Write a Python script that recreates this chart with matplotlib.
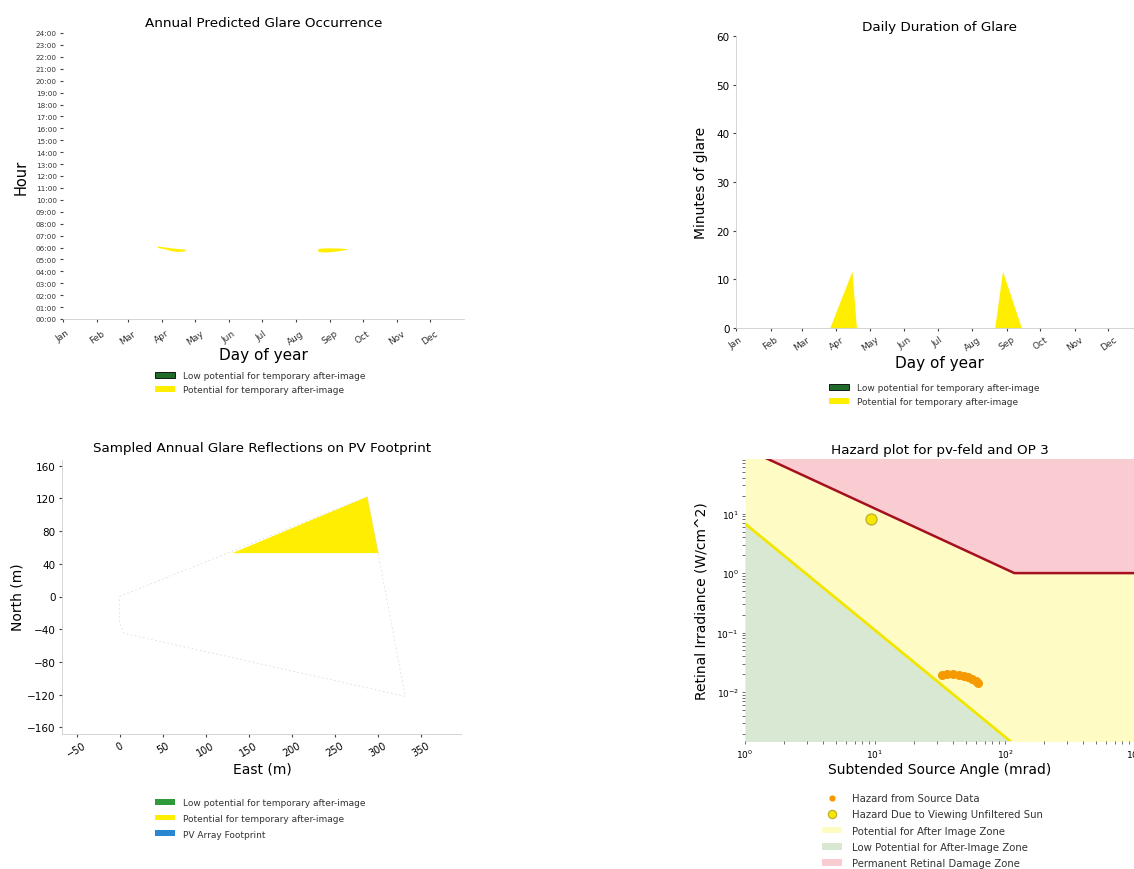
import numpy as np
import matplotlib
matplotlib.use("Agg")
import matplotlib.pyplot as plt
from matplotlib.patches import Patch
from matplotlib.lines import Line2D

# ── data ───────────────────────────────────────────────────────────
MONTHS = ["Jan", "Feb", "Mar", "Apr", "May", "Jun",
          "Jul", "Aug", "Sep", "Oct", "Nov", "Dec"]
MONTH_START = [0, 31, 59, 90, 120, 151, 181, 212, 243, 273, 304, 334]
HOUR_LABELS = [f"{h:02d}:00" for h in range(25)]

# annual glare occurrence (day of year, hour band)
apr_days = [86, 92, 98, 104, 111]
apr_top = [6.12, 6.05, 5.97, 5.92, 5.86]
apr_bot = [6.00, 5.90, 5.75, 5.66, 5.72]
sep_days = [232, 238, 245, 252, 259]
sep_top = [5.92, 5.97, 5.97, 5.95, 5.90]
sep_bot = [5.66, 5.62, 5.66, 5.75, 5.86]

# daily duration of glare
dur_days = [0, 84, 104, 108, 232, 239, 256, 365]
dur_minutes = [0, 0, 11.7, 0, 0, 11.7, 0, 0]

# PV footprint and glare reflections (m)
foot_east = [0, 288, 332, 5, 0, 0]
foot_north = [0, 122, -122, -45, -33, 0]
refl_east = [131, 288, 301]
refl_north = [53, 122, 53]

# hazard plot
src_angle = [33, 36, 40, 44, 48, 52, 56, 60, 62]
src_irr = [0.019, 0.0198, 0.0198, 0.0193, 0.0187, 0.018, 0.0168, 0.0152, 0.0143]
sun_angle = [9.3]
sun_irr = [8.2]
dmg_x = [1.0, 118, 1000]
dmg_y = [125, 1.0, 1.0]
aft_x = [1.0, 130]
aft_y = [6.8, 0.0011]

YELLOW = "#ffee00"
GREEN = "#1e6b2a"
W, H = 1134, 870

fig = plt.figure(figsize=(W / 100, H / 100), dpi=100)


def px_axes(l, t, r, b):
    return fig.add_axes([l / W, 1 - b / H, (r - l) / W, (b - t) / H])


def light_spines(ax):
    for s in ("top", "right"):
        ax.spines[s].set_visible(False)
    for s in ("left", "bottom"):
        ax.spines[s].set_color("#cfcfcf")
        ax.spines[s].set_linewidth(0.6)
        ax.spines[s].set_linestyle((0, (2, 1)))
    ax.tick_params(length=2.5, width=0.8, color="#444444", pad=2)


def glare_legend(ax, x, y, extra=False):
    handles = [Patch(facecolor=GREEN, edgecolor="black", linewidth=0.6),
               Patch(facecolor=YELLOW, edgecolor="none")]
    labels = ["Low potential for temporary after-image",
              "Potential for temporary after-image"]
    spacing = 0.55
    if extra:
        handles[0] = Patch(facecolor="#2f9a3a", edgecolor="none")
        handles.append(Patch(facecolor="#2a86d0", edgecolor="none"))
        labels.append("PV Array Footprint")
        spacing = 0.75
    ax.legend(handles, labels, loc="upper left", bbox_to_anchor=(x / W, 1 - y / H),
              bbox_transform=fig.transFigure, frameon=False, fontsize=6.5,
              handlelength=2.2, handleheight=0.6, labelspacing=spacing,
              borderpad=0, borderaxespad=0, handletextpad=0.9, labelcolor="#333333")


# ── panel 1: annual predicted glare occurrence ─────────────────────
ax1 = px_axes(63, 34, 464, 320)
ax1.fill_between(apr_days, apr_bot, apr_top, color=YELLOW, lw=0)
ax1.fill_between(sep_days, sep_bot, sep_top, color=YELLOW, lw=0)
ax1.set_xlim(0, 365)
ax1.set_ylim(0, 24)
ax1.set_yticks(range(25))
ax1.set_yticklabels(HOUR_LABELS, fontsize=5.2, color="#333333")
ax1.set_xticks(MONTH_START)
ax1.set_xticklabels(MONTHS, rotation=35, fontsize=6.5, color="#333333")
ax1.set_title("Annual Predicted Glare Occurrence", fontsize=9.7, pad=5)
ax1.set_xlabel("Day of year", fontsize=11, labelpad=1)
ax1.set_ylabel("Hour", fontsize=10.5, labelpad=5)
light_spines(ax1)
ax1.spines["left"].set_visible(False)
ax1.tick_params(axis="x", pad=4)
glare_legend(ax1, 155, 372)

# ── panel 2: daily duration of glare ───────────────────────────────
ax2 = px_axes(736, 37, 1143, 329)
ax2.fill_between(dur_days, 0, dur_minutes, color=YELLOW, lw=0)
ax2.set_xlim(0, 365)
ax2.set_ylim(0, 60)
ax2.set_yticks(range(0, 61, 10))
ax2.tick_params(axis="y", labelsize=7.5)
ax2.set_xticks(MONTH_START)
ax2.set_xticklabels(MONTHS, rotation=35, fontsize=6.5, color="#333333")
ax2.set_title("Daily Duration of Glare", fontsize=9.7, pad=4)
ax2.set_xlabel("Day of year", fontsize=11, labelpad=2)
ax2.set_ylabel("Minutes of glare", fontsize=10, labelpad=6)
light_spines(ax2)
ax2.spines["left"].set_linestyle("-")
glare_legend(ax2, 829, 384)

# ── panel 3: glare reflections on PV footprint ─────────────────────
ax3 = px_axes(62, 460, 462, 735)
ax3.plot(foot_east, foot_north, color="#dddddd", lw=0.6, ls=(0, (2, 3)))
ax3.fill(refl_east, refl_north, color=YELLOW, lw=0)
ax3.set_xlim(-67, 398)
ax3.set_ylim(-168, 168)
ax3.set_xticks(range(-50, 351, 50))
ax3.set_yticks(range(-160, 161, 40))
ax3.tick_params(axis="x", labelrotation=30, labelsize=7)
ax3.tick_params(axis="y", labelsize=7.5)
ax3.set_title("Sampled Annual Glare Reflections on PV Footprint", fontsize=9.7, pad=6)
ax3.set_xlabel("East (m)", fontsize=10, labelpad=2)
ax3.set_ylabel("North (m)", fontsize=10, labelpad=2)
light_spines(ax3)
glare_legend(ax3, 155, 799, extra=True)

# ── panel 4: hazard plot ───────────────────────────────────────────
ax4 = px_axes(745, 460, 1135, 742)
ylo, yhi = 0.0015, 83
ax4.fill_between(dmg_x, ylo / 10, dmg_y, color="#fffbc4", lw=0)
ax4.fill_between(aft_x, ylo / 10, aft_y, color="#d9e8d2", lw=0)
ax4.fill_between(dmg_x, dmg_y, yhi * 10, color="#f9ccd2", lw=0)
ax4.plot(dmg_x, dmg_y, color="#a50f1e", lw=1.8)
ax4.plot(aft_x, aft_y, color="#f2e600", lw=2)
ax4.plot(src_angle, src_irr, "o", color="#f59a00", ms=6.5, mec="none")
ax4.plot(sun_angle, sun_irr, "o", color="#f7e600", ms=8, mec="#b8a830", mew=0.8)
ax4.set_xscale("log")
ax4.set_yscale("log")
ax4.set_xlim(1, 1000)
ax4.set_ylim(ylo, yhi)
for s in ax4.spines.values():
    s.set_visible(False)
ax4.tick_params(which="both", length=2.5, width=0.6, color="#555555", labelsize=6.5, pad=2)
ax4.set_title("Hazard plot for pv-feld and OP 3", fontsize=9.7, pad=4.5)
ax4.set_xlabel("Subtended Source Angle (mrad)", fontsize=10, labelpad=2)
ax4.set_ylabel("Retinal Irradiance (W/cm^2)", fontsize=10, labelpad=6)

hz_handles = [
    Line2D([], [], ls="none", marker="o", color="#f59a00", ms=4.5, mec="none"),
    Line2D([], [], ls="none", marker="o", color="#f7e600", ms=6, mec="#b8a830", mew=0.8),
    Patch(facecolor="#fffbc4", edgecolor="none"),
    Patch(facecolor="#d9e8d2", edgecolor="none"),
    Patch(facecolor="#f9ccd2", edgecolor="none"),
]
hz_labels = ["Hazard from Source Data", "Hazard Due to Viewing Unfiltered Sun",
             "Potential for After Image Zone", "Low Potential for After-Image Zone",
             "Permanent Retinal Damage Zone"]
ax4.legend(hz_handles, hz_labels, loc="upper left", bbox_to_anchor=(822 / W, 1 - 794 / H),
           bbox_transform=fig.transFigure, frameon=False, fontsize=7.3,
           handlelength=2.0, handleheight=0.6, labelspacing=0.62,
           borderpad=0, borderaxespad=0, handletextpad=1.0, labelcolor="#333333")

fig.savefig("out.png", dpi=100)
